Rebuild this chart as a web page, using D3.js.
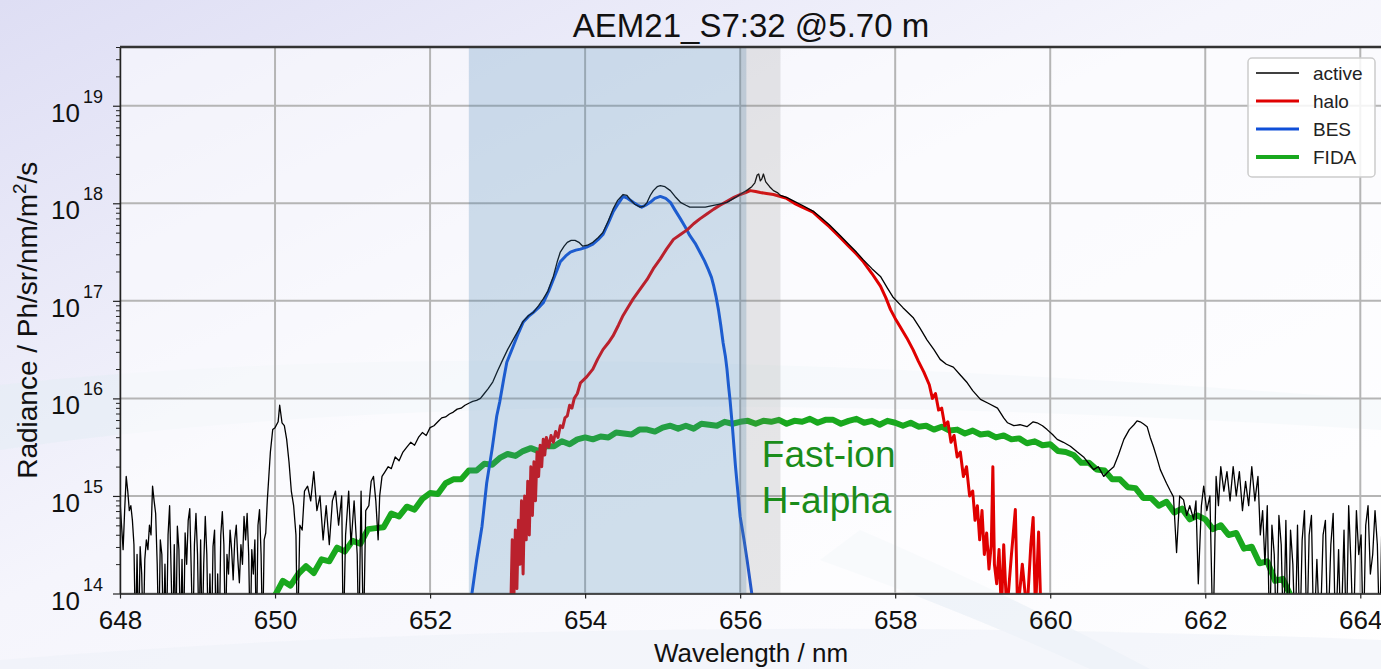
<!DOCTYPE html>
<html>
<head>
<meta charset="utf-8">
<script src="https://cdn.jsdelivr.net/npm/d3@7"></script>
<style>
body { margin: 0; overflow: hidden; background: #fff; }
svg { display: block; font-family: "Liberation Sans", Arial, Helvetica, sans-serif; }
</style>
</head>
<body>
<svg width="1381" height="669"></svg>
<script>
// wavelength ticks (nm) and decades of the log axis
var xTicks = [648, 650, 652, 654, 656, 658, 660, 662, 664];
var yDecades = [14, 15, 16, 17, 18, 19];
var legendLabels = ["active", "halo", "BES", "FIDA"];
// shaded wavelength windows (nm)
var besWindow = [652.5, 656.08],
    coreWindow = [656.0, 656.52];

// spectra: [wavelength nm, log10 radiance]
var active = [
  [648.00,14.95],[648.02,14.70],[648.04,14.45],[648.06,14.85],[648.08,15.20],[648.10,15.05],[648.12,14.85],[648.14,14.90],
  [648.16,14.75],[648.18,14.50],[648.20,13.50],[648.22,14.40],[648.24,13.50],[648.26,14.48],[648.28,14.20],[648.30,13.50],
  [648.32,14.35],[648.34,14.55],[648.36,14.45],[648.38,14.70],[648.40,14.60],[648.42,15.10],[648.44,14.95],[648.46,14.82],
  [648.48,14.30],[648.50,13.50],[648.52,14.55],[648.54,14.40],[648.56,13.50],[648.58,14.30],[648.60,13.50],[648.62,14.60],
  [648.64,14.90],[648.66,14.20],[648.68,13.50],[648.70,14.50],[648.72,13.50],[648.74,14.69],[648.76,14.45],[648.78,13.50],
  [648.80,14.35],[648.82,13.50],[648.84,14.62],[648.86,14.30],[648.88,14.75],[648.90,14.87],[648.92,14.20],[648.94,13.50],
  [648.96,14.50],[648.98,14.82],[649.00,14.40],[649.02,13.50],[649.04,14.55],[649.06,13.50],[649.08,14.30],[649.10,14.79],
  [649.12,14.40],[649.14,13.50],[649.16,14.20],[649.18,13.50],[649.20,14.48],[649.22,14.65],[649.24,13.50],[649.26,14.20],
  [649.28,13.50],[649.30,14.60],[649.32,14.84],[649.34,14.50],[649.36,13.50],[649.38,14.40],[649.40,14.20],[649.42,14.65],
  [649.44,14.45],[649.46,14.14],[649.48,14.55],[649.50,14.70],[649.52,14.35],[649.54,14.11],[649.56,14.50],[649.58,14.30],
  [649.60,14.79],[649.62,14.55],[649.64,14.82],[649.66,14.40],[649.68,13.50],[649.70,14.45],[649.72,14.20],[649.74,14.55],
  [649.76,13.50],[649.78,14.70],[649.80,14.86],[649.82,14.40],[649.84,13.50],[649.86,14.55],[649.88,14.62],[649.90,14.95],
  [649.92,15.20],[649.94,15.45],[649.97,15.68],[650.00,15.70],[650.04,15.76],[650.06,15.93],[650.09,15.75],[650.12,15.72],
  [650.15,15.58],[650.18,15.35],[650.21,15.05],[650.24,14.90],[650.27,14.60],[650.29,13.50],[650.32,14.70],[650.35,14.65],
  [650.38,15.05],[650.42,15.10],[650.46,14.95],[650.50,15.25],[650.54,14.85],[650.58,15.00],[650.62,14.55],[650.66,14.90],
  [650.70,14.50],[650.74,14.95],[650.78,15.05],[650.82,14.70],[650.86,15.00],[650.88,13.50],[650.91,14.60],[650.95,15.05],
  [650.98,14.50],[651.02,14.95],[651.06,14.40],[651.08,13.50],[651.11,15.05],[651.14,13.50],[651.17,14.85],[651.21,14.90],
  [651.24,15.15],[651.27,15.20],[651.30,14.95],[651.33,14.55],[651.35,15.00],[651.38,15.20],[651.42,15.25],[651.46,15.30],
  [651.50,15.28],[651.55,15.40],[651.60,15.36],[651.65,15.45],[651.70,15.50],[651.75,15.55],[651.80,15.52],[651.85,15.60],
  [651.90,15.65],[651.95,15.62],[652.00,15.70],[652.05,15.72],[652.10,15.76],[652.15,15.80],[652.20,15.81],[652.25,15.84],
  [652.30,15.86],[652.35,15.89],[652.40,15.90],[652.45,15.93],[652.50,15.95],[652.55,15.97],[652.60,15.98],[652.65,16.00],
  [652.70,16.05],[652.75,16.10],[652.81,16.17],[652.87,16.28],[652.94,16.40],[653.00,16.50],[653.07,16.60],[653.14,16.70],
  [653.20,16.79],[653.27,16.85],[653.33,16.88],[653.40,16.95],[653.46,17.02],[653.52,17.10],[653.59,17.25],[653.64,17.40],
  [653.68,17.50],[653.73,17.56],[653.77,17.60],[653.82,17.62],[653.87,17.62],[653.92,17.60],[653.97,17.56],[654.03,17.57],
  [654.10,17.60],[654.17,17.65],[654.23,17.70],[654.30,17.82],[654.36,17.94],[654.42,18.03],[654.49,18.09],[654.54,18.08],
  [654.58,18.04],[654.64,17.99],[654.71,17.96],[654.76,17.97],[654.80,18.01],[654.84,18.08],[654.88,18.13],[654.93,18.17],
  [654.97,18.18],[655.03,18.17],[655.10,18.13],[655.16,18.07],[655.23,18.01],[655.30,17.98],[655.35,17.96],[655.45,17.96],
  [655.55,17.96],[655.61,17.97],[655.72,17.99],[655.83,18.01],[655.94,18.06],[656.04,18.11],[656.10,18.14],[656.15,18.17],
  [656.19,18.21],[656.22,18.29],[656.24,18.30],[656.26,18.23],[656.28,18.25],[656.30,18.30],[656.33,18.22],[656.38,18.17],
  [656.43,18.13],[656.48,18.11],[656.52,18.08],[656.60,18.06],[656.70,18.02],[656.80,17.98],[656.94,17.92],[657.05,17.85],
  [657.15,17.78],[657.29,17.67],[657.40,17.58],[657.50,17.50],[657.59,17.42],[657.70,17.33],[657.81,17.25],[657.90,17.13],
  [657.97,17.04],[658.10,16.93],[658.23,16.83],[658.32,16.72],[658.41,16.60],[658.50,16.50],[658.58,16.40],[658.66,16.35],
  [658.75,16.32],[658.84,16.24],[658.93,16.16],[659.00,16.08],[659.10,15.99],[659.20,15.95],[659.32,15.90],[659.40,15.80],
  [659.45,15.75],[659.53,15.72],[659.61,15.73],[659.70,15.71],[659.78,15.76],[659.83,15.75],[659.90,15.72],[659.96,15.68],
  [660.03,15.63],[660.09,15.58],[660.17,15.55],[660.26,15.51],[660.35,15.45],[660.43,15.40],[660.50,15.33],[660.56,15.27],
  [660.62,15.30],[660.69,15.20],[660.75,15.25],[660.82,15.30],[660.88,15.42],[660.95,15.58],[661.02,15.68],[661.08,15.73],
  [661.12,15.77],[661.16,15.76],[661.20,15.74],[661.25,15.71],[661.29,15.60],[661.33,15.51],[661.38,15.38],[661.42,15.27],
  [661.46,15.20],[661.50,15.13],[661.55,15.05],[661.59,14.99],[661.63,14.42],[661.67,15.00],[661.72,14.96],[661.76,14.80],
  [661.80,14.90],[661.85,14.76],[661.88,14.95],[661.91,14.10],[661.95,14.90],[661.98,15.10],[662.02,14.85],[662.06,15.00],
  [662.10,13.50],[662.14,15.20],[662.17,14.90],[662.20,15.30],[662.24,15.05],[662.28,15.25],[662.32,14.95],[662.36,15.30],
  [662.40,15.00],[662.44,15.25],[662.48,14.85],[662.52,15.15],[662.56,14.90],[662.60,15.30],[662.64,14.95],[662.68,15.20],
  [662.71,14.60],[662.74,14.85],[662.77,14.30],[662.80,14.90],[662.83,13.50],[662.86,14.70],[662.89,14.40],[662.92,13.50],
  [662.95,14.80],[662.98,14.50],[663.01,13.50],[663.04,14.75],[663.07,13.50],[663.10,14.65],[663.13,14.30],[663.16,13.50],
  [663.19,14.70],[663.22,13.50],[663.25,14.55],[663.28,14.85],[663.31,13.50],[663.34,14.60],[663.37,14.80],[663.40,13.50],
  [663.44,14.35],[663.48,13.50],[663.52,14.60],[663.55,14.75],[663.58,13.50],[663.62,14.50],[663.65,14.82],[663.68,13.50],
  [663.72,14.45],[663.75,13.50],[663.79,14.65],[663.82,13.50],[663.85,14.90],[663.88,14.30],[663.91,13.50],[663.95,14.85],
  [663.98,14.40],[664.01,14.60],[664.04,13.50],[664.07,14.70],[664.10,14.90],[664.13,14.20],[664.16,14.40],[664.19,14.85],
  [664.22,14.50],[664.25,13.50],[664.28,14.80],[664.31,14.60]
];

var halo = [
  [653.04,13.80],[653.06,14.55],[653.08,13.90],[653.10,14.65],[653.12,14.05],[653.14,14.75],[653.16,14.30],[653.18,14.95],
  [653.20,14.20],[653.22,15.00],[653.24,14.55],[653.26,15.15],[653.28,14.60],[653.30,15.30],[653.32,14.80],[653.34,15.35],
  [653.36,14.95],[653.38,15.45],[653.40,15.20],[653.42,15.52],[653.44,15.30],[653.46,15.58],[653.48,15.42],[653.50,15.60],
  [653.53,15.50],[653.56,15.62],[653.59,15.55],[653.62,15.66],[653.65,15.60],[653.68,15.72],[653.71,15.70],[653.74,15.80],
  [653.77,15.82],[653.80,15.93],[653.83,15.90],[653.86,16.00],[653.90,16.05],[653.94,16.16],[654.02,16.22],[654.10,16.30],
  [654.16,16.40],[654.23,16.50],[654.30,16.57],[654.36,16.64],[654.43,16.75],[654.49,16.85],[654.55,16.93],[654.62,17.02],
  [654.71,17.12],[654.80,17.22],[654.88,17.33],[654.97,17.43],[655.05,17.53],[655.14,17.63],[655.23,17.68],[655.32,17.73],
  [655.40,17.79],[655.48,17.84],[655.57,17.89],[655.66,17.94],[655.74,17.98],[655.83,18.02],[655.92,18.06],[656.00,18.09],
  [656.07,18.11],[656.13,18.13],[656.20,18.12],[656.26,18.11],[656.34,18.10],[656.43,18.09],[656.52,18.07],[656.60,18.05],
  [656.70,18.00],[656.80,17.96],[656.94,17.91],[657.05,17.83],[657.15,17.76],[657.29,17.65],[657.40,17.56],[657.50,17.48],
  [657.59,17.40],[657.70,17.28],[657.81,17.15],[657.88,17.03],[657.94,16.91],[658.00,16.82],[658.06,16.74],[658.15,16.62],
  [658.23,16.50],[658.30,16.38],[658.37,16.27],[658.44,16.14],[658.48,16.00],[658.52,16.05],[658.56,15.88],[658.60,15.90],
  [658.64,15.72],[658.68,15.76],[658.72,15.55],[658.76,15.62],[658.80,15.40],[658.84,15.45],[658.88,15.20],[658.92,15.30],
  [658.96,15.00],[659.00,15.05],[659.03,14.75],[659.06,14.90],[659.09,14.55],[659.12,14.85],[659.15,14.40],[659.18,14.62],
  [659.21,14.25],[659.24,14.50],[659.26,15.30],[659.28,14.30],[659.31,14.10],[659.34,14.45],[659.37,13.80],[659.40,14.50],
  [659.44,13.80],[659.50,14.40],[659.55,14.86],[659.58,13.80],[659.64,14.30],[659.70,13.80],[659.75,14.50],[659.78,14.78],
  [659.81,13.80],[659.85,14.63],[659.88,13.80]
];

var bes = [
  [652.52,13.80],[652.54,14.00],[652.60,14.34],[652.67,14.69],[652.73,15.13],[652.80,15.48],[652.86,15.82],[652.90,15.97],
  [652.95,16.20],[652.99,16.37],[653.07,16.53],[653.14,16.67],[653.20,16.78],[653.27,16.84],[653.33,16.88],[653.40,16.93],
  [653.46,16.98],[653.53,17.10],[653.59,17.22],[653.64,17.32],[653.68,17.40],[653.75,17.46],[653.81,17.50],[653.88,17.52],
  [653.94,17.53],[654.02,17.55],[654.10,17.58],[654.17,17.63],[654.23,17.68],[654.30,17.80],[654.36,17.91],[654.43,18.00],
  [654.49,18.07],[654.55,18.05],[654.62,18.01],[654.68,17.98],[654.73,17.96],[654.78,17.98],[654.84,18.01],[654.90,18.05],
  [654.97,18.07],[655.04,18.05],[655.10,18.01],[655.16,17.93],[655.23,17.84],[655.29,17.76],[655.35,17.67],[655.42,17.59],
  [655.48,17.50],[655.54,17.41],[655.59,17.32],[655.63,17.24],[655.66,17.15],[655.69,17.04],[655.72,16.91],[655.75,16.75],
  [655.78,16.57],[655.81,16.43],[655.83,16.30],[655.85,16.13],[655.87,15.98],[655.90,15.71],[655.94,15.30],[656.00,14.79],
  [656.05,14.55],[656.09,14.34],[656.15,14.00],[656.18,13.80]
];

var fida = [
  [650.0,13.98],[650.1,14.13],[650.2,14.08],[650.3,14.20],[650.4,14.28],[650.5,14.21],[650.6,14.35],[650.7,14.33],
  [650.8,14.47],[650.9,14.43],[651.0,14.54],[651.1,14.51],[651.2,14.66],[651.3,14.67],[651.4,14.68],[651.5,14.82],
  [651.6,14.79],[651.7,14.89],[651.8,14.86],[651.9,14.97],[652.0,15.03],[652.1,15.02],[652.2,15.13],[652.3,15.17],
  [652.4,15.17],[652.5,15.26],[652.6,15.26],[652.7,15.33],[652.8,15.32],[652.9,15.39],[653.0,15.43],[653.1,15.41],
  [653.2,15.46],[653.3,15.49],[653.4,15.46],[653.5,15.51],[653.6,15.51],[653.7,15.56],[653.8,15.53],[653.9,15.58],
  [654.0,15.60],[654.1,15.58],[654.2,15.61],[654.3,15.60],[654.4,15.65],[654.5,15.64],[654.6,15.63],[654.7,15.68],
  [654.8,15.68],[654.9,15.66],[655.0,15.70],[655.1,15.72],[655.2,15.69],[655.3,15.72],[655.4,15.69],[655.5,15.74],
  [655.6,15.73],[655.7,15.72],[655.8,15.76],[655.9,15.74],[656.0,15.76],[656.1,15.77],[656.2,15.74],[656.3,15.77],
  [656.4,15.76],[656.5,15.78],[656.6,15.74],[656.7,15.77],[656.8,15.76],[656.9,15.79],[657.0,15.75],[657.1,15.78],
  [657.2,15.78],[657.3,15.74],[657.4,15.77],[657.5,15.79],[657.6,15.75],[657.7,15.77],[657.8,15.73],[657.9,15.77],
  [658.0,15.75],[658.1,15.72],[658.2,15.75],[658.3,15.71],[658.4,15.72],[658.5,15.68],[658.6,15.71],[658.7,15.67],
  [658.8,15.68],[658.9,15.64],[659.0,15.67],[659.1,15.63],[659.2,15.64],[659.3,15.60],[659.4,15.62],[659.5,15.58],
  [659.6,15.59],[659.7,15.54],[659.8,15.56],[659.9,15.52],[660.0,15.53],[660.1,15.46],[660.2,15.45],[660.3,15.42],
  [660.4,15.34],[660.5,15.34],[660.6,15.27],[660.7,15.26],[660.8,15.17],[660.9,15.17],[661.0,15.09],[661.1,15.08],
  [661.2,14.98],[661.3,14.98],[661.4,14.90],[661.5,14.94],[661.6,14.83],[661.7,14.87],[661.8,14.76],[661.9,14.80],
  [662.0,14.76],[662.1,14.66],[662.2,14.70],[662.3,14.60],[662.4,14.62],[662.5,14.46],[662.6,14.48],[662.7,14.31],
  [662.8,14.33],[662.9,14.13],[663.0,14.15],[663.1,13.98],[663.2,13.95]
];

var svg = d3.select("svg"),
    width = +svg.attr("width"),
    height = +svg.attr("height"),
    margin = {top: 47, right: -1, bottom: 75.5, left: 120},
    pw = width - margin.left - margin.right,
    ph = height - margin.top - margin.bottom;

var colors = {active: "#000000", halo: "#e00000", BES: "#0f4fd8", FIDA: "#19a81e"},
    widths = {active: 1.3, halo: 3, BES: 3, FIDA: 6};

// slide background
var defs = svg.append("defs");
var grad = defs.append("linearGradient").attr("id", "bg")
    .attr("x1", 0).attr("y1", 0).attr("x2", 1).attr("y2", 1);
grad.append("stop").attr("offset", "0").attr("stop-color", "#dedef4");
grad.append("stop").attr("offset", "0.45").attr("stop-color", "#f5f5fc");
grad.append("stop").attr("offset", "1").attr("stop-color", "#ffffff");
svg.append("rect").attr("width", width).attr("height", height).attr("fill", "url(#bg)");
svg.append("path")
    .attr("d", "M0,385 Q500,330 1381,400 L1381,430 Q500,375 0,450 Z")
    .attr("fill", "#e4ecf4").attr("opacity", 0.55);
svg.append("path")
    .attr("d", "M860,530 Q1000,590 1150,669 L1090,669 Q960,610 820,560 Z")
    .attr("fill", "#e8eff5").attr("opacity", 0.6);
svg.append("path")
    .attr("d", "M0,660 Q600,610 1381,640 L1381,669 L0,669 Z")
    .attr("fill", "#eef2f8").attr("opacity", 0.6);

defs.append("clipPath").attr("id", "clip")
  .append("rect").attr("width", pw).attr("height", ph);

var g = svg.append("g").attr("transform", "translate(" + margin.left + "," + margin.top + ")");

var x = d3.scaleLinear().domain([648, 664.28]).range([0, pw]),
    y = d3.scaleLog().domain([1e14, 4e19]).range([ph, 0]);

g.append("rect").attr("width", pw).attr("height", ph)
    .attr("fill", "#ffffff").attr("opacity", 0.55);

// grid
var majors = yDecades.map(function(d) { return Math.pow(10, d); });
g.append("g").selectAll("line").data(xTicks).enter().append("line")
    .attr("x1", function(d) { return x(d); }).attr("x2", function(d) { return x(d); })
    .attr("y1", 0).attr("y2", ph)
    .attr("stroke", "#b5b5b5").attr("stroke-width", 2);
g.append("g").selectAll("line").data(majors).enter().append("line")
    .attr("x1", 0).attr("x2", pw)
    .attr("y1", function(d) { return y(d); }).attr("y2", function(d) { return y(d); })
    .attr("stroke", "#b5b5b5").attr("stroke-width", 2);

// spectra
var line = d3.line()
    .x(function(d) { return x(d[0]); })
    .y(function(d) { return y(Math.pow(10, d[1])); });

var plotted = [["FIDA", fida], ["BES", bes], ["halo", halo], ["active", active]];
var curves = g.append("g").attr("clip-path", "url(#clip)");
plotted.forEach(function(s) {
  curves.append("path")
      .datum(s[1])
      .attr("d", line)
      .attr("fill", "none")
      .attr("stroke", colors[s[0]])
      .attr("stroke-width", widths[s[0]])
      .attr("stroke-linejoin", "round");
});

// shaded windows drawn over the data
g.append("rect")
    .attr("x", x(besWindow[0])).attr("width", x(besWindow[1]) - x(besWindow[0]))
    .attr("y", 0).attr("height", ph)
    .attr("fill", "#4682b4").attr("fill-opacity", 0.25);
g.append("rect")
    .attr("x", x(coreWindow[0])).attr("width", x(coreWindow[1]) - x(coreWindow[0]))
    .attr("y", 0).attr("height", ph)
    .attr("fill", "#808080").attr("fill-opacity", 0.18);

// axes
var xAxis = g.append("g")
    .attr("transform", "translate(0," + ph + ")")
    .call(d3.axisBottom(x).tickValues(xTicks).tickSize(5).tickSizeOuter(0).tickPadding(12).tickFormat(d3.format("d")));
xAxis.select(".domain").attr("stroke", "#222").attr("stroke-width", 1.5);
xAxis.selectAll(".tick line").attr("stroke", "#222").attr("stroke-width", 1.2);
xAxis.selectAll("text").attr("font-size", 26).attr("fill", "#111")
    .attr("font-family", "Liberation Sans, Arial, sans-serif");

var minors = [];
yDecades.forEach(function(d) {
  for (var k = 2; k <= 9; k++) {
    var v = k * Math.pow(10, d);
    if (v <= y.domain()[1]) minors.push(v);
  }
});
var yMinor = g.append("g")
    .call(d3.axisLeft(y).tickValues(minors).tickSize(4).tickSizeOuter(0).tickFormat(""));
yMinor.select(".domain").remove();
yMinor.selectAll(".tick line").attr("stroke", "#222");
var yAxis = g.append("g")
    .call(d3.axisLeft(y).tickValues(majors).tickSize(7).tickSizeOuter(0).tickFormat(""));
yAxis.select(".domain").attr("stroke", "#222").attr("stroke-width", 1.5);
yAxis.selectAll(".tick line").attr("stroke", "#222").attr("stroke-width", 1.2);

var yLab = g.append("g").selectAll("g").data(yDecades).enter().append("g")
    .attr("transform", function(d) { return "translate(0," + y(Math.pow(10, d)) + ")"; });
yLab.append("text")
    .attr("x", -40).attr("y", 16)
    .attr("text-anchor", "end").attr("font-size", 26).attr("fill", "#111")
    .text("10");
yLab.append("text")
    .attr("x", -37).attr("y", -3)
    .attr("font-size", 18).attr("fill", "#111")
    .text(function(d) { return d; });

// top spine
g.append("line").attr("x1", 0).attr("x2", pw).attr("y1", 0).attr("y2", 0)
    .attr("stroke", "#333").attr("stroke-width", 2.5);

// axis labels
svg.append("text")
    .attr("x", margin.left + pw / 2).attr("y", 662)
    .attr("text-anchor", "middle").attr("font-size", 26).attr("fill", "#111")
    .text("Wavelength / nm");
var yl = svg.append("text")
    .attr("transform", "translate(37," + (margin.top + ph / 2) + ") rotate(-90)")
    .attr("text-anchor", "middle").attr("font-size", 28).attr("fill", "#111");
yl.append("tspan").text("Radiance / Ph/sr/nm/m");
yl.append("tspan").attr("font-size", 19).attr("dy", -11).text("2");
yl.append("tspan").attr("dy", 11).text("/s");

// title
svg.append("text")
    .attr("x", margin.left + pw / 2).attr("y", 37)
    .attr("text-anchor", "middle").attr("font-size", 33).attr("fill", "#111")
    .text("AEM21_S7:32 @5.70 m");

// annotation
var note = g.append("text").attr("font-size", 37).attr("fill", "#1a8c1a");
note.append("tspan").attr("x", x(656.28)).attr("y", 420).text("Fast-ion");
note.append("tspan").attr("x", x(656.28)).attr("y", 466).text("H-alpha");

// legend
var lg = svg.append("g").attr("transform", "translate(1248,58)");
lg.append("rect").attr("width", 127).attr("height", 119).attr("rx", 4)
    .attr("fill", "#ffffff").attr("fill-opacity", 0.85)
    .attr("stroke", "#cccccc").attr("stroke-width", 1.5);
var rows = lg.selectAll("g.row").data(legendLabels).enter().append("g")
    .attr("class", "row")
    .attr("transform", function(d, i) { return "translate(0," + (15 + i * 28) + ")"; });
rows.append("line").attr("x1", 8).attr("x2", 51).attr("y1", 0).attr("y2", 0)
    .attr("stroke", function(d) { return colors[d]; })
    .attr("stroke-width", function(d) { return d === "active" ? 1.5 : (d === "FIDA" ? 4 : 3); });
rows.append("text").attr("x", 65).attr("y", 7)
    .attr("font-size", 19).attr("fill", "#222")
    .text(function(d) { return d; });
</script>
</body>
</html>
